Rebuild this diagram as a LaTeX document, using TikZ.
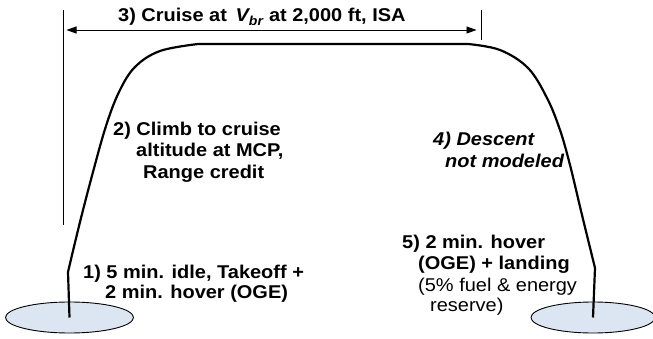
\documentclass[tikz,border=0pt]{standalone}
\usepackage{fontspec}
\setmainfont{Liberation Sans}[FakeStretch=1.08]
\usetikzlibrary{arrows.meta,shapes.geometric}
\definecolor{padblue}{HTML}{DCE6F2}
\tikzset{
  lbl/.style={anchor=base west, inner sep=0pt, font=\fontsize{18.5}{21}\selectfont\bfseries},
  lblr/.style={anchor=base west, inner sep=0pt, font=\fontsize{18.5}{21}\selectfont},
  lbli/.style={anchor=base west, inner sep=0pt, font=\fontsize{18.5}{21}\selectfont\bfseries\itshape},
  pad/.style={draw=black, fill=padblue, line width=0.9pt},
  flightpath/.style={line width=2.2pt, line join=round},
  thinln/.style={line width=0.9pt}
}
\begin{document}
\begin{tikzpicture}[x=1pt,y=-1pt]
\useasboundingbox (0,0) rectangle (653,339);
% pads
\node[pad, ellipse, minimum width=128pt, minimum height=31pt, inner sep=0pt] (padL) at (69.5,317.5) {};
\node[pad, ellipse, minimum width=124pt, minimum height=31pt, inner sep=0pt] (padR) at (593,317.5) {};
% reference lines
\coordinate (vlTop) at (63,10);
\coordinate (vlBot) at (63,225);
\coordinate (rtTop) at (481,10);
\coordinate (rtBot) at (481,40);
\draw[thinln] (vlTop) -- (vlBot);
\draw[thinln] (rtTop) -- (rtBot);
\coordinate (arL) at (63,30);
\coordinate (arR) at (481,30);
\draw[thinln, {Triangle[length=10pt,width=7pt]}-{Triangle[length=10pt,width=7pt]}, shorten <=3.5pt, shorten >=4.5pt] (arL) -- (arR);
% flight path
\draw[flightpath] (padL.center) -- (68,272)
  plot[smooth, tension=0.6] coordinates {(68,272) (80,222) (93,172) (106,126) (119,92) (135,67) (160,51) (198,44)}
  -- (468,44)
  plot[smooth, tension=0.6] coordinates {(468,44) (500,50) (528,68) (547,98) (560,130) (570,165) (582,215) (595,268)}
  -- (padR.center);
% labels
\node[lbl] (t3) at (118,22) {3) Cruise at \,\textit{V\textsubscript{br}} at 2,000 ft, ISA};
\node[lbl] (t2a) at (113,136) {2) Climb to cruise};
\node[lbl] (t2b) at (136,157) {altitude at MCP,};
\node[lbl] (t2c) at (143,179) {Range credit};
\node[lbl] (t1a) at (83,278) {1) 5 min. idle, Takeoff +};
\node[lbl] (t1b) at (105,298) {2 min. hover (OGE)};
\node[lbli] (t4a) at (433,146) {4) Descent};
\node[lbli] (t4b) at (445,168) {not modeled};
\node[lbl] (t5a) at (402,248) {5) 2 min. hover};
\node[lbl] (t5b) at (418,269) {(OGE) + landing};
\node[lblr] (t5c) at (418,291) {(5\% fuel \& energy};
\node[lblr] (t5d) at (430,311) {reserve)};
\end{tikzpicture}
\end{document}
